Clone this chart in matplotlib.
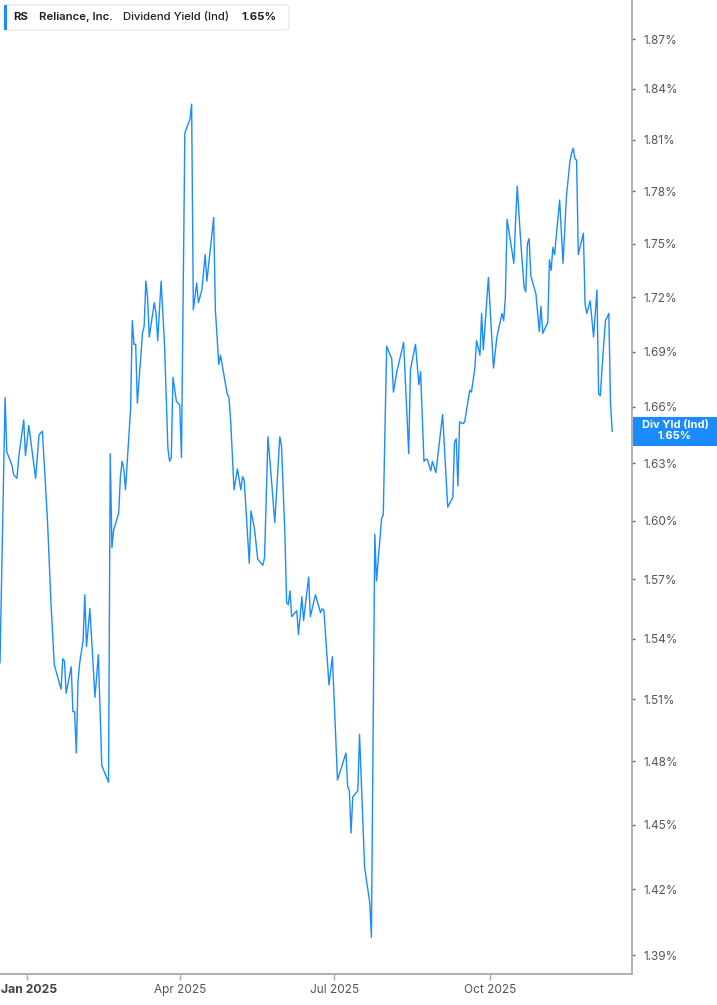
import numpy as np
import pandas as pd
import matplotlib
matplotlib.use("Agg")
import matplotlib.pyplot as plt
from matplotlib.patches import Rectangle, FancyBboxPatch
from matplotlib.ticker import FixedLocator, NullLocator
import matplotlib.dates as mdates

plt.rcParams['font.family'] = ['Inter', 'DejaVu Sans']

# dividend yield (%)
dates = [
    "2024-12-16", "2024-12-19", "2024-12-20", "2024-12-23", "2024-12-24", "2024-12-26",
    "2024-12-27", "2024-12-30", "2024-12-31", "2025-01-02", "2025-01-06", "2025-01-08",
    "2025-01-10", "2025-01-13", "2025-01-15", "2025-01-17", "2025-01-21", "2025-01-22",
    "2025-01-23", "2025-01-24", "2025-01-27", "2025-01-28", "2025-01-29", "2025-01-30",
    "2025-01-31", "2025-02-01", "2025-02-03", "2025-02-04", "2025-02-05", "2025-02-07",
    "2025-02-10", "2025-02-12", "2025-02-14", "2025-02-18", "2025-02-19", "2025-02-20",
    "2025-02-21", "2025-02-24", "2025-02-25", "2025-02-26", "2025-02-27", "2025-02-28",
    "2025-03-03", "2025-03-04", "2025-03-05", "2025-03-06", "2025-03-07", "2025-03-10",
    "2025-03-11", "2025-03-12", "2025-03-13", "2025-03-14", "2025-03-17", "2025-03-18",
    "2025-03-19", "2025-03-21", "2025-03-23", "2025-03-25", "2025-03-26", "2025-03-27",
    "2025-03-28", "2025-03-30", "2025-04-01", "2025-04-02", "2025-04-04", "2025-04-07",
    "2025-04-08", "2025-04-09", "2025-04-11", "2025-04-12", "2025-04-14", "2025-04-16",
    "2025-04-17", "2025-04-21", "2025-04-22", "2025-04-23", "2025-04-24", "2025-04-25",
    "2025-04-29", "2025-04-30", "2025-05-01", "2025-05-03", "2025-05-05", "2025-05-07",
    "2025-05-08", "2025-05-09", "2025-05-12", "2025-05-13", "2025-05-15", "2025-05-17",
    "2025-05-20", "2025-05-21", "2025-05-23", "2025-05-25", "2025-05-27", "2025-05-30",
    "2025-05-31", "2025-06-02", "2025-06-03", "2025-06-04", "2025-06-05", "2025-06-06",
    "2025-06-09", "2025-06-10", "2025-06-12", "2025-06-13", "2025-06-16", "2025-06-17",
    "2025-06-20", "2025-06-23", "2025-06-24", "2025-06-25", "2025-06-28", "2025-06-30",
    "2025-07-02", "2025-07-03", "2025-07-08", "2025-07-09", "2025-07-10", "2025-07-11",
    "2025-07-12", "2025-07-15", "2025-07-16", "2025-07-19", "2025-07-22", "2025-07-23",
    "2025-07-25", "2025-07-26", "2025-07-29", "2025-07-30", "2025-08-01", "2025-08-04",
    "2025-08-05", "2025-08-07", "2025-08-08", "2025-08-11", "2025-08-14", "2025-08-15",
    "2025-08-18", "2025-08-20", "2025-08-21", "2025-08-23", "2025-08-24", "2025-08-25",
    "2025-08-27", "2025-08-28", "2025-08-30", "2025-09-03", "2025-09-06", "2025-09-09",
    "2025-09-10", "2025-09-11", "2025-09-12", "2025-09-13", "2025-09-15", "2025-09-16",
    "2025-09-19", "2025-09-20", "2025-09-22", "2025-09-23", "2025-09-25", "2025-09-26",
    "2025-09-27", "2025-09-30", "2025-10-03", "2025-10-05", "2025-10-08", "2025-10-09",
    "2025-10-10", "2025-10-11", "2025-10-15", "2025-10-16", "2025-10-17", "2025-10-19",
    "2025-10-21", "2025-10-22", "2025-10-23", "2025-10-24", "2025-10-25", "2025-10-28",
    "2025-10-30", "2025-10-31", "2025-11-01", "2025-11-04", "2025-11-05", "2025-11-06",
    "2025-11-07", "2025-11-08", "2025-11-11", "2025-11-13", "2025-11-15", "2025-11-17",
    "2025-11-18", "2025-11-19", "2025-11-20", "2025-11-21", "2025-11-22", "2025-11-25",
    "2025-11-26", "2025-11-27", "2025-11-29", "2025-12-01", "2025-12-03", "2025-12-04",
    "2025-12-05", "2025-12-06", "2025-12-08", "2025-12-10", "2025-12-11", "2025-12-12",
]
yields = [
    1.528, 1.665, 1.636, 1.629, 1.624, 1.622,
    1.633, 1.653, 1.634, 1.650, 1.622, 1.645,
    1.647, 1.600, 1.559, 1.527, 1.515, 1.530,
    1.529, 1.513, 1.526, 1.504, 1.504, 1.484,
    1.519, 1.528, 1.539, 1.562, 1.536, 1.555,
    1.511, 1.532, 1.478, 1.470, 1.635, 1.586,
    1.595, 1.604, 1.623, 1.631, 1.627, 1.616,
    1.659, 1.707, 1.694, 1.694, 1.662, 1.700,
    1.704, 1.729, 1.720, 1.698, 1.717, 1.711,
    1.696, 1.729, 1.694, 1.638, 1.631, 1.633,
    1.676, 1.663, 1.661, 1.633, 1.814, 1.822,
    1.831, 1.713, 1.728, 1.717, 1.724, 1.744,
    1.729, 1.765, 1.713, 1.698, 1.683, 1.688,
    1.667, 1.665, 1.653, 1.616, 1.627, 1.616,
    1.623, 1.621, 1.578, 1.605, 1.596, 1.580,
    1.577, 1.581, 1.644, 1.622, 1.599, 1.644,
    1.639, 1.593, 1.558, 1.557, 1.564, 1.551,
    1.554, 1.542, 1.561, 1.549, 1.571, 1.551,
    1.562, 1.553, 1.555, 1.554, 1.517, 1.531,
    1.491, 1.471, 1.484, 1.468, 1.466, 1.446,
    1.463, 1.466, 1.493, 1.430, 1.414, 1.398,
    1.593, 1.569, 1.601, 1.603, 1.693, 1.686,
    1.668, 1.679, 1.683, 1.695, 1.635, 1.680,
    1.694, 1.672, 1.679, 1.631, 1.632, 1.632,
    1.626, 1.631, 1.625, 1.656, 1.607, 1.612,
    1.641, 1.643, 1.618, 1.652, 1.651, 1.652,
    1.669, 1.668, 1.681, 1.696, 1.688, 1.711,
    1.691, 1.731, 1.681, 1.698, 1.711, 1.707,
    1.720, 1.764, 1.739, 1.762, 1.783, 1.752,
    1.726, 1.723, 1.750, 1.753, 1.732, 1.722,
    1.701, 1.715, 1.700, 1.706, 1.741, 1.735,
    1.748, 1.744, 1.775, 1.739, 1.777, 1.797,
    1.802, 1.805, 1.799, 1.798, 1.744, 1.756,
    1.716, 1.711, 1.718, 1.698, 1.724, 1.667,
    1.666, 1.681, 1.707, 1.711, 1.662, 1.647,
]

ytick_vals = [1.39, 1.42, 1.45, 1.48, 1.51, 1.54, 1.57, 1.60, 1.63,
              1.66, 1.69, 1.72, 1.75, 1.78, 1.81, 1.84, 1.87]
xtick_dates = ["2025-01-01", "2025-04-01", "2025-07-01", "2025-10-01"]
xtick_labels = ["Jan 2025", "Apr 2025", "Jul 2025", "Oct 2025"]

ticker = "RS"
company = "Reliance, Inc."
metric = "Dividend Yield (Ind)"
tag = "Div Yld (Ind)"

blue = '#1a8cff'
W, H = 717, 1005

dts = pd.to_datetime(dates)
fig = plt.figure(figsize=(W / 100, H / 100), dpi=100)
ax = fig.add_axes([0, 31 / H, 632 / W, 974 / H])

ax.plot(dts, yields, color=blue, lw=1.0)

ax.set_yscale('log')
ax.set_ylim(1.3815, 1.8938)
ax.set_xlim(pd.Timestamp("2024-12-16"), pd.Timestamp("2025-12-23 16:00"))

ax.yaxis.set_major_locator(FixedLocator(ytick_vals))
ax.yaxis.set_minor_locator(NullLocator())
ax.set_yticklabels([f"{v:.2f}%" for v in ytick_vals])
ax.yaxis.tick_right()
ax.set_xticks(pd.to_datetime(xtick_dates))
# the first (year) label sits flush with the left edge, drawn separately below
ax.set_xticklabels([""] + xtick_labels[1:])
ax.xaxis.set_minor_locator(NullLocator())

for s in ['left', 'top']:
    ax.spines[s].set_visible(False)
for s in ['right', 'bottom']:
    ax.spines[s].set_color('#aaaaaa')
    ax.spines[s].set_linewidth(1.3)

ax.tick_params(axis='y', length=2.5, width=1, color='#666666', pad=6,
               labelsize=8.5, labelcolor='#555555')
ax.tick_params(axis='x', length=4, width=1, color='#aaaaaa', pad=3,
               labelsize=8.5, labelcolor='#555555')

# header box top-left
def fx(x):
    return x / W

def fy(y):
    return 1 - y / H

fig.text(fx(1), fy(990), xtick_labels[0], fontsize=8.8, weight='bold',
         color='#444444', ha='left', va='center')

fig.add_artist(FancyBboxPatch((fx(4), fy(30)), fx(285), 25 / H,
                              boxstyle="round,pad=0,rounding_size=0.004",
                              transform=fig.transFigure, facecolor='white',
                              edgecolor='#e3e3e3', lw=0.8))
fig.add_artist(Rectangle((fx(4), fy(30)), fx(3), 25 / H, transform=fig.transFigure,
                         facecolor=blue, edgecolor='none'))
hs = 8.2
fig.text(fx(13), fy(17), ticker, fontsize=hs, weight='bold', color='#222222', va='center')
fig.text(fx(39), fy(17), company, fontsize=hs, weight='semibold', color='#222222', va='center')
fig.text(fx(123), fy(17), metric, fontsize=hs, weight='medium', color='#222222', va='center')
fig.text(fx(241), fy(17), f"{yields[-1]:.2f}%", fontsize=hs, weight='bold',
         color='#222222', va='center')

# last value tag on the right axis
ly = ax.transData.transform((mdates.date2num(dts[-1]), yields[-1]))[1]
fig.add_artist(Rectangle((633, ly - 15), W - 633, 29, transform=None,
                         facecolor=blue, edgecolor='none'))
fig.text(675 / W, (ly + 6) / H, tag, fontsize=8, weight='bold', color='white',
         ha='center', va='center')
fig.text(675 / W, (ly - 5) / H, f"{yields[-1]:.2f}%", fontsize=8, weight='bold',
         color='white', ha='center', va='center')

fig.savefig("out.png", dpi=100, facecolor='white')
